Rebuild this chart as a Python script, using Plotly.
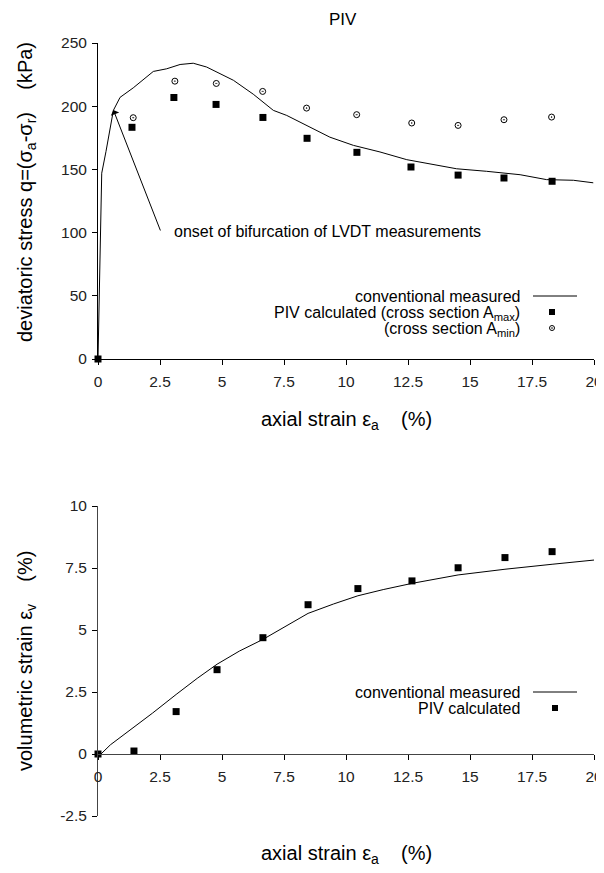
import plotly.graph_objects as go

# ---------------- data ----------------
# top: deviatoric stress vs axial strain
conv_q_x = [0, 0.05, 0.1, 0.15, 0.32, 0.48, 0.62, 0.89, 1.42, 2.23, 2.77, 3.31, 3.84, 4.38, 4.92,
            5.46, 6.26, 7.07, 7.61, 8.41, 9.35, 10.3, 11.37, 12.45, 13.39, 14.46, 15.67, 17.02,
            18.09, 19.17, 19.97]
conv_q_y = [0, 60, 120, 147, 164, 183, 196.7, 207, 214.5, 227.5, 229.6, 233, 234, 231, 226,
            220.5, 209.5, 196.7, 192.7, 184.8, 175.5, 169, 163.8, 157.7, 154.5, 150.5, 148.5,
            145.8, 141.9, 141.4, 139.4]
amax_x = [0, 1.37, 3.06, 4.76, 6.65, 8.43, 10.44, 12.62, 14.52, 16.37, 18.31]
amax_y = [0, 183.3, 206.9, 201.4, 191.1, 174.6, 163.5, 151.9, 145.5, 143.2, 140.6]
amin_x = [1.42, 3.10, 4.77, 6.64, 8.41, 10.43, 12.65, 14.52, 16.37, 18.29]
amin_y = [190.9, 219.8, 218.0, 211.7, 198.5, 193.3, 186.7, 184.8, 189.3, 191.4]

# bottom: volumetric strain vs axial strain
conv_v_x = [0, 0.12, 0.5, 1.0, 1.5, 2.2, 3.15, 4.0, 4.8, 5.7, 6.65, 7.5, 8.47, 9.5, 10.48,
            11.5, 12.66, 14.52, 16.41, 18.31, 20.0]
conv_v_y = [0, 0.0, 0.37, 0.75, 1.1, 1.65, 2.4, 3.05, 3.62, 4.15, 4.62, 5.12, 5.67, 6.05, 6.38,
            6.63, 6.88, 7.22, 7.45, 7.65, 7.82]
piv_v_x = [0, 1.45, 3.15, 4.80, 6.65, 8.47, 10.48, 12.66, 14.52, 16.41, 18.31]
piv_v_y = [0, 0.12, 1.71, 3.40, 4.69, 6.02, 6.67, 6.98, 7.51, 7.92, 8.16]

x_ticks = [0, 2.5, 5, 7.5, 10, 12.5, 15, 17.5, 20]
x_ticklabels = ["0", "2.5", "5", "7.5", "10", "12.5", "15", "17.5", "20"]
q_ticks = [0, 50, 100, 150, 200, 250]
v_ticks = [-2.5, 0, 2.5, 5, 7.5, 10]
v_ticklabels = ["-2.5", "0", "2.5", "5", "7.5", "10"]

x_range = [0, 20]
q_range = [0, 250]
v_range = [-2.5, 10]

# ---------------- layout geometry ----------------
# the page body has an 8 px margin, so the figure is drawn 8 px in from the window corner
OFF = 8
W, H = 604, 873 - OFF
FONT = "Arial, Liberation Sans, sans-serif"


def px(x):
    return (x - OFF) / W


def py(y):
    return 1 - (y - OFF) / H


x_dom = [px(98), px(594)]
top_dom = [py(359), py(43)]
bot_dom = [py(816), py(506)]

# position of the bottom x axis (at volumetric strain = 0)
bot_xpos = bot_dom[0] + (0 - v_range[0]) / (v_range[1] - v_range[0]) * (bot_dom[1] - bot_dom[0])

fig = go.Figure()

line_style = dict(color="black", width=1)
sq = dict(symbol="square", size=7, color="black")
circ = dict(symbol="circle-open-dot", size=6, color="black", line=dict(width=1))

fig.add_trace(go.Scatter(x=conv_q_x, y=conv_q_y, mode="lines", line=line_style,
                         xaxis="x", yaxis="y", showlegend=False, cliponaxis=False))
fig.add_trace(go.Scatter(x=amax_x, y=amax_y, mode="markers", marker=sq,
                         xaxis="x", yaxis="y", showlegend=False, cliponaxis=False))
fig.add_trace(go.Scatter(x=amin_x, y=amin_y, mode="markers", marker=circ,
                         xaxis="x", yaxis="y", showlegend=False, cliponaxis=False))

fig.add_trace(go.Scatter(x=conv_v_x, y=conv_v_y, mode="lines", line=line_style,
                         xaxis="x2", yaxis="y2", showlegend=False, cliponaxis=False))
fig.add_trace(go.Scatter(x=piv_v_x, y=piv_v_y, mode="markers", marker=sq,
                         xaxis="x2", yaxis="y2", showlegend=False, cliponaxis=False))

tickfont = dict(family=FONT, size=15.5, color="#222")
axis_common = dict(showgrid=False, zeroline=False, showline=True, linecolor="black",
                   linewidth=1, ticks="outside", ticklen=5, tickwidth=1, tickcolor="black",
                   tickfont=tickfont, automargin=False, ticklabeloverflow="allow")

fig.update_layout(
    width=W, height=H, autosize=False,
    margin=dict(l=0, r=0, t=0, b=0, autoexpand=False),
    paper_bgcolor="white", plot_bgcolor="white",
    showlegend=False,
    xaxis=dict(domain=x_dom, range=x_range, anchor="y", tickvals=x_ticks,
               ticktext=x_ticklabels, ticklabelstandoff=3, **axis_common),
    yaxis=dict(domain=top_dom, range=q_range, anchor="x", tickvals=q_ticks,
               ticklabelstandoff=2, **axis_common),
    xaxis2=dict(domain=x_dom, range=x_range, anchor="free", position=bot_xpos,
                tickvals=x_ticks, ticktext=x_ticklabels, ticklabelstandoff=3,
                **{**axis_common, "linecolor": "#444"}),
    yaxis2=dict(domain=bot_dom, range=v_range, anchor="x2", tickvals=v_ticks,
                ticktext=v_ticklabels, ticklabelstandoff=2,
                **{**axis_common, "linecolor": "#444"}),
)

ann = []
# title
ann.append(dict(text="PIV", x=px(343), y=py(20), xref="paper", yref="paper",
                showarrow=False, font=dict(family=FONT, size=17, color="black"),
                xanchor="center", yanchor="middle"))
# axis titles
title_font = dict(family=FONT, size=20, color="black")
ann.append(dict(text="axial strain ε<sub>a</sub>    (%)", x=px(346), y=py(420),
                xref="paper", yref="paper", showarrow=False, font=title_font,
                xanchor="center", yanchor="middle"))
ann.append(dict(text="axial strain ε<sub>a</sub>    (%)", x=px(346), y=py(854),
                xref="paper", yref="paper", showarrow=False, font=title_font,
                xanchor="center", yanchor="middle"))
ann.append(dict(text="deviatoric stress q=(σ<sub>a</sub>-σ<sub>r</sub>)    (kPa)",
                x=px(26), y=py(192), xref="paper", yref="paper", showarrow=False,
                font=title_font, textangle=-90, xanchor="center", yanchor="middle"))
ann.append(dict(text="volumetric strain ε<sub>v</sub>    (%)",
                x=px(26), y=py(661), xref="paper", yref="paper", showarrow=False,
                font=title_font, textangle=-90, xanchor="center", yanchor="middle"))

# annotation arrow (onset of bifurcation)
ann.append(dict(x=0.62, y=197, ax=2.54, ay=100.5, xref="x", yref="y", axref="x", ayref="y",
                text="", showarrow=True, arrowhead=1, arrowsize=1.5, arrowwidth=1,
                arrowcolor="black"))
ann.append(dict(x=3.0, y=100.5, xref="x", yref="y", text="onset of bifurcation of LVDT measurements",
                showarrow=False, xanchor="left", yanchor="middle",
                font=dict(family=FONT, size=16, color="black")))

# legends (text on the left, symbol on the right)
leg_font = dict(family=FONT, size=16, color="black")
for txt, yy in [("conventional measured", 296),
                ("PIV calculated (cross section A<sub>max</sub>)", 313),
                ("(cross section A<sub>min</sub>)", 330)]:
    ann.append(dict(text=txt, x=px(522), y=py(yy), xref="paper", yref="paper",
                    showarrow=False, xanchor="right", yanchor="middle", font=leg_font))
for txt, yy in [("conventional measured", 692), ("PIV calculated", 708)]:
    ann.append(dict(text=txt, x=px(522), y=py(yy), xref="paper", yref="paper",
                    showarrow=False, xanchor="right", yanchor="middle", font=leg_font))

fig.update_layout(annotations=ann)

shapes = []
# legend keys top
shapes.append(dict(type="line", xref="paper", yref="paper", x0=px(533), x1=px(577),
                   y0=py(296), y1=py(296), line=dict(color="black", width=1)))
shapes.append(dict(type="rect", xref="paper", yref="paper", x0=px(549), x1=px(555),
                   y0=py(315), y1=py(309), fillcolor="black", line=dict(width=0)))
shapes.append(dict(type="circle", xref="paper", yref="paper", x0=px(549.5), x1=px(554.5),
                   y0=py(330.5), y1=py(325.5), line=dict(color="black", width=1)))
shapes.append(dict(type="circle", xref="paper", yref="paper", x0=px(551.5), x1=px(552.5),
                   y0=py(328.5), y1=py(327.5), fillcolor="black", line=dict(color="black", width=0.5)))
# legend keys bottom
shapes.append(dict(type="line", xref="paper", yref="paper", x0=px(533), x1=px(577),
                   y0=py(692), y1=py(692), line=dict(color="black", width=1)))
shapes.append(dict(type="rect", xref="paper", yref="paper", x0=px(552), x1=px(558),
                   y0=py(711), y1=py(705), fillcolor="black", line=dict(width=0)))
fig.update_layout(shapes=shapes)

fig.write_html("out.html")
